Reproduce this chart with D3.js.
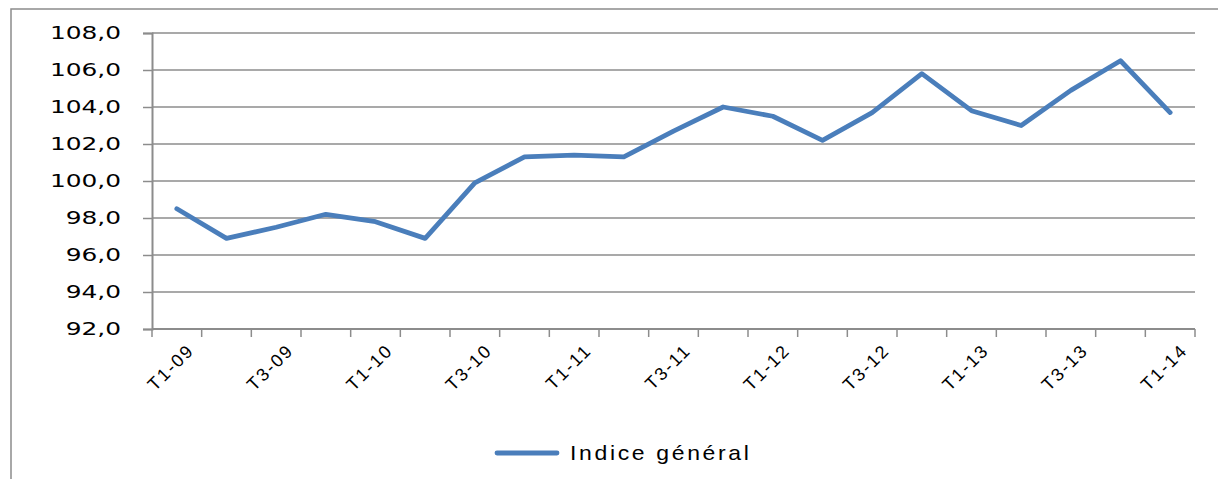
<!DOCTYPE html>
<html>
<head>
<meta charset="utf-8">
<script src="https://d3js.org/d3.v7.min.js"></script>
<style>
body { margin: 0; background: #fff; }
</style>
</head>
<body>
<script>
var quarters = ["T1-09","T2-09","T3-09","T4-09","T1-10","T2-10","T3-10","T4-10",
    "T1-11","T2-11","T3-11","T4-11","T1-12","T2-12","T3-12","T4-12",
    "T1-13","T2-13","T3-13","T4-13","T1-14"];
var indice = [98.5, 96.9, 97.5, 98.2, 97.8, 96.9, 99.9, 101.3,
    101.4, 101.3, 102.7, 104.0, 103.5, 102.2, 103.7, 105.8,
    103.8, 103.0, 104.9, 106.5, 103.7];
var yTicks = [92, 94, 96, 98, 100, 102, 104, 106, 108];
var seriesName = "Indice général";

var w = 1218, h = 479;
var plotL = 152, plotR = 1195, plotT = 33, plotB = 329;

var svg = d3.select("body").append("svg")
    .attr("width", w)
    .attr("height", h);

// outer chart border
svg.append("rect")
    .attr("x", 11).attr("y", 9)
    .attr("width", w + 20).attr("height", h + 20)
    .attr("fill", "none")
    .attr("stroke", "#8c8c8c")
    .attr("stroke-width", 1.5);

var x = d3.scaleBand().domain(quarters).range([plotL, plotR]).padding(0);
var y = d3.scaleLinear().domain([92, 108]).range([plotB, plotT]);

// gridlines
svg.append("g").selectAll("line")
    .data(yTicks.slice(1))
    .enter().append("line")
    .attr("x1", plotL).attr("x2", plotR)
    .attr("y1", d => y(d)).attr("y2", d => y(d))
    .attr("stroke", "#8c8c8c")
    .attr("stroke-width", 1.5);

// y axis
var yAxis = svg.append("g")
    .attr("transform", "translate(" + plotL + ",0)")
    .call(d3.axisLeft(y).tickValues(yTicks).tickSize(9)
        .tickFormat(d => d3.format(".1f")(d).replace(".", ",")));
yAxis.select(".domain").attr("stroke", "#8c8c8c").attr("stroke-width", 2);
yAxis.selectAll(".tick line").attr("stroke", "#8c8c8c").attr("stroke-width", 1.5);
yAxis.selectAll("text")
    .attr("x", null)
    .attr("transform", "translate(-31,0) scale(1.38,1)")
    .attr("fill", "#000")
    .style("font-family", "'DejaVu Sans', sans-serif")
    .style("font-size", "18px");

// x axis (ticks between categories)
var xg = svg.append("g");
xg.append("line")
    .attr("x1", plotL).attr("x2", plotR)
    .attr("y1", plotB).attr("y2", plotB)
    .attr("stroke", "#8c8c8c").attr("stroke-width", 2);
var bounds = quarters.map(q => x(q)).concat([plotR]);
xg.selectAll("line.tk")
    .data(bounds)
    .enter().append("line")
    .attr("class", "tk")
    .attr("x1", d => d).attr("x2", d => d)
    .attr("y1", plotB).attr("y2", plotB + 8)
    .attr("stroke", "#8c8c8c").attr("stroke-width", 1.5);

xg.selectAll("text")
    .data(quarters.filter((q, i) => i % 2 === 0))
    .enter().append("text")
    .attr("transform", d => "translate(" + (x(d) + x.bandwidth() / 2 + 14) + "," + (plotB + 18) + ") rotate(-45)")
    .attr("text-anchor", "end")
    .attr("dy", "0.35em")
    .style("font-family", "'Liberation Sans', Arial, sans-serif")
    .style("font-size", "18px")
    .style("letter-spacing", "2px")
    .text(d => d);

// series line
var line = d3.line()
    .x((d, i) => x(quarters[i]) + x.bandwidth() / 2)
    .y(d => y(d));
svg.append("path")
    .datum(indice)
    .attr("d", line)
    .attr("fill", "none")
    .attr("stroke", "#4a7ebb")
    .attr("stroke-width", 4.8)
    .attr("stroke-linejoin", "round")
    .attr("stroke-linecap", "round");

// legend
var lg = svg.append("g").attr("transform", "translate(497,453)");
lg.append("line")
    .attr("x1", 0).attr("x2", 60)
    .attr("stroke", "#4a7ebb").attr("stroke-width", 4.8)
    .attr("stroke-linecap", "round");
lg.append("text")
    .attr("transform", "translate(73,0) scale(1.15,1)")
    .attr("dy", "0.35em")
    .style("font-family", "'Liberation Sans', Arial, sans-serif")
    .style("font-size", "20px")
    .style("letter-spacing", "2.3px")
    .text(seriesName);
</script>
</body>
</html>
